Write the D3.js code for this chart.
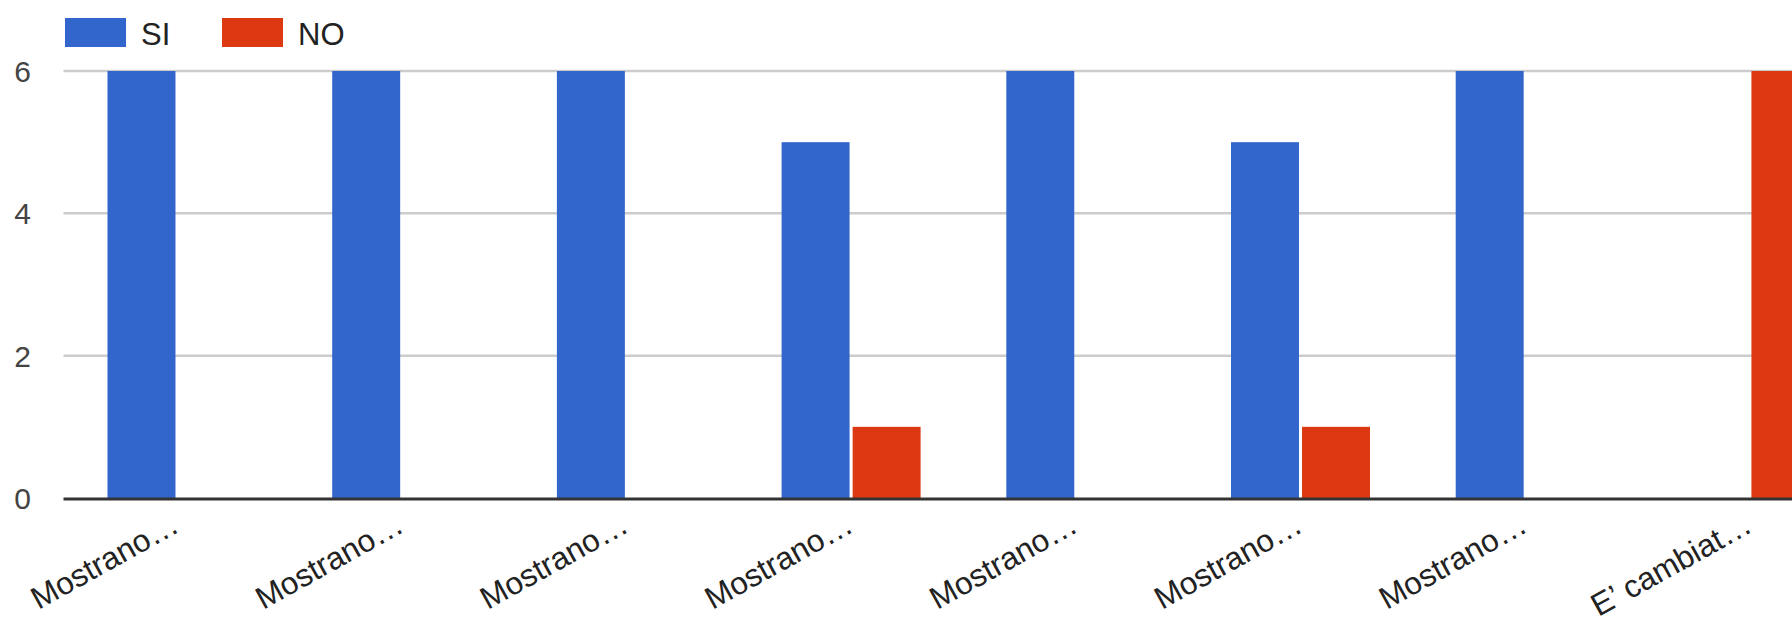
<!DOCTYPE html>
<html>
<head>
<meta charset="utf-8">
<script src="https://cdn.jsdelivr.net/npm/d3@7"></script>
<style>
    html, body { margin: 0; padding: 0; background: #fff; overflow: hidden; }
    svg { display: block; font-family: Arial, "Liberation Sans", sans-serif; }
</style>
</head>
<body>
<div id="chart"></div>
<script>
// Data for the chart
const categories = ['Mostrano…', 'Mostrano…', 'Mostrano…', 'Mostrano…', 'Mostrano…', 'Mostrano…', 'Mostrano…', 'E’ cambiat…'];
const siValues = [6, 6, 6, 5, 6, 5, 6, 0];
const noValues = [0, 0, 0, 1, 0, 1, 0, 6];
const seriesNames = ['SI', 'NO'];
const seriesColors = ['#3366cc', '#dc3912'];
const yTicks = [0, 2, 4, 6];

const rows = categories.map((c, i) => ({ key: i, label: c, SI: siValues[i], NO: noValues[i] }));

function drawBarChart() {
    const width = 1792;
    const height = 621;
    const left = 64.5;
    const step = 224.7;

    const svg = d3.select("#chart")
        .append("svg")
        .attr("width", width)
        .attr("height", height);

    const x0 = d3.scaleBand()
        .domain(rows.map(d => d.key))
        .range([left, left + step * rows.length]);

    const x1 = d3.scaleBand()
        .domain(seriesNames)
        .range([43, 182])
        .paddingInner(0.043);

    const y = d3.scaleLinear()
        .domain([0, 6])
        .range([498, 71]);

    // gridlines
    svg.append("g")
        .selectAll("line")
        .data(yTicks.filter(t => t !== 0))
        .enter().append("line")
        .attr("x1", left - 1)
        .attr("x2", width)
        .attr("y1", d => y(d))
        .attr("y2", d => y(d))
        .attr("stroke", "#cccccc")
        .attr("stroke-width", 2.5);

    // y labels
    svg.append("g")
        .selectAll("text")
        .data(yTicks)
        .enter().append("text")
        .attr("x", 31)
        .attr("y", d => y(d) + 11)
        .attr("text-anchor", "end")
        .attr("font-size", 30)
        .attr("fill", "#444")
        .text(d => d);

    // bars
    svg.append("g")
        .selectAll("g")
        .data(rows)
        .enter().append("g")
        .attr("transform", d => `translate(${x0(d.key)},0)`)
        .selectAll("rect")
        .data(d => seriesNames.map((s, i) => ({ s, i, v: d[s] })).filter(e => e.v > 0))
        .enter().append("rect")
        .attr("x", d => x1(d.s))
        .attr("y", d => y(d.v))
        .attr("width", x1.bandwidth())
        .attr("height", d => y(0) - y(d.v))
        .attr("fill", d => seriesColors[d.i]);

    // baseline
    svg.append("line")
        .attr("x1", left - 1)
        .attr("x2", width)
        .attr("y1", y(0) + 1)
        .attr("y2", y(0) + 1)
        .attr("stroke", "#333")
        .attr("stroke-width", 3);

    // x labels
    svg.append("g")
        .selectAll("text")
        .data(rows)
        .enter().append("text")
        .attr("transform", d => `translate(${x0(d.key) + x0.bandwidth() / 2 + 4},531) rotate(-29)`)
        .attr("text-anchor", "end")
        .attr("font-size", 31.5)
        .attr("fill", "#222")
        .text(d => d.label);

    // legend
    const legend = svg.append("g")
        .selectAll("g")
        .data(seriesNames)
        .enter().append("g")
        .attr("transform", (d, i) => `translate(${65 + i * 157},18)`);

    legend.append("rect")
        .attr("width", 61)
        .attr("height", 29)
        .attr("fill", (d, i) => seriesColors[i]);

    legend.append("text")
        .attr("x", 76)
        .attr("y", 26.5)
        .attr("font-size", 31)
        .attr("fill", "#222")
        .text(d => d);
}

drawBarChart();
</script>
</body>
</html>
